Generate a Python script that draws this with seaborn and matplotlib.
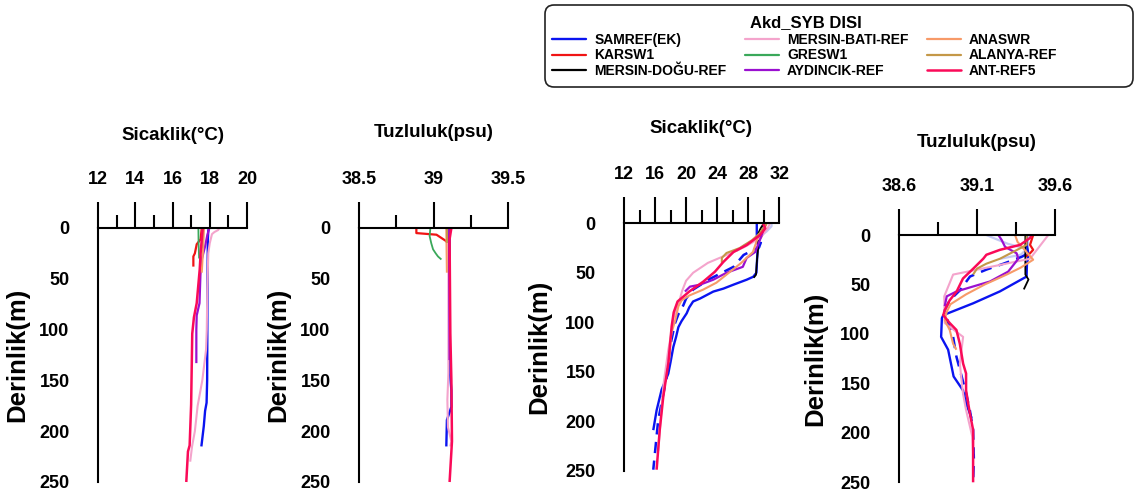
import matplotlib
matplotlib.use("Agg")
import matplotlib.pyplot as plt
from matplotlib.lines import Line2D
from matplotlib.patches import FancyBboxPatch
from matplotlib.transforms import IdentityTransform
import numpy as np
import pandas as pd
import seaborn as sns

# ---------------------------------------------------------------- stations
STATIONS = ["SAMREF(EK)", "KARSW1", "MERSIN-DOĞU-REF",
            "MERSIN-BATI-REF", "GRESW1", "AYDINCIK-REF",
            "ANASWR", "ALANYA-REF", "ANT-REF5"]
COLORS = ["#0a14f0", "#f01414", "#000000",
          "#f4a4cc", "#3aa85a", "#9a10d0",
          "#f79a68", "#c49848", "#fa0a58"]
WIDTHS = [1.7, 1.6, 1.3, 1.5, 1.3, 1.6, 1.5, 1.5, 1.8]
LEGEND_TITLE = "Akd_SYB DISI"

# ------------------------------------------- winter temperature (depth, T)
winter_temp = {
    "SAMREF(EK)": ([0, 3, 10, 50, 100, 150, 172, 180, 195, 215],
                   [17.95, 17.92, 17.9, 17.88, 17.87, 17.86, 17.83, 17.75, 17.68, 17.55]),
    "KARSW1": ([0, 11, 16, 25, 28, 38],
               [17.57, 17.51, 17.3, 17.2, 17.12, 17.12]),
    "MERSIN-BATI-REF": ([0, 2, 4, 6, 15, 25, 60, 100, 120, 150, 175, 200, 215, 230],
                        [18.52, 18.45, 18.25, 18.12, 18.0, 17.92, 17.87, 17.84, 17.8, 17.6, 17.35, 17.2, 17.05, 16.95]),
    "GRESW1": ([0, 15, 30], [17.39, 17.4, 17.43]),
    "AYDINCIK-REF": ([0, 7, 18, 31, 46, 74, 86, 100, 133],
                     [17.98, 17.87, 17.75, 17.57, 17.5, 17.45, 17.3, 17.28, 17.28]),
    "ANASWR": ([0, 18, 44], [17.69, 17.65, 17.57]),
    "ALANYA-REF": ([0, 10, 20], [17.62, 17.6, 17.56]),
    "ANT-REF5": ([0, 11, 25, 41, 74, 88, 104, 174, 214, 220, 250],
                 [17.62, 17.57, 17.51, 17.46, 17.3, 17.15, 17.06, 17.0, 16.92, 16.83, 16.74]),
}

# ---------------------------------------------- winter salinity (depth, S)
winter_sal = {
    "SAMREF(EK)": ([0, 137, 160, 176, 189, 215],
                   [39.108, 39.108, 39.12, 39.12, 39.09, 39.086]),
    "KARSW1": ([0, 5, 6.6, 13, 14], [38.885, 38.885, 39.02, 39.086, 39.088]),
    "MERSIN-BATI-REF": ([0, 143, 169, 196, 210, 215],
                        [39.1, 39.1, 39.093, 39.097, 39.12, 39.113]),
    "GRESW1": ([0, 8, 15, 21, 25, 28, 31],
               [38.979, 38.974, 38.985, 38.997, 39.015, 39.03, 39.053]),
    "AYDINCIK-REF": ([0, 60, 130], [39.104, 39.106, 39.108]),
    "ANASWR": ([0, 44], [39.086, 39.09]),
    "ALANYA-REF": ([0, 15], [39.093, 39.093]),
    "ANT-REF5": ([0, 11, 104, 150, 210, 250],
                 [39.12, 39.108, 39.113, 39.12, 39.124, 39.108]),
}

# ------------------------------------------- summer temperature (depth, T)
summer_temp = {
    "SAMREF(EK)": ([0, 10, 20, 24, 27, 50, 54, 57, 62, 66, 69, 76, 79, 85, 91, 99, 105, 115, 125, 140, 152, 168, 189, 209],
                   [29.1, 29.1, 29.15, 29.4, 29.2, 29.05, 28.65, 27.8, 26.1, 24.8, 23.5, 21.8, 20.9, 20.4, 20.07, 19.4, 19.0, 18.7, 18.35, 18.0, 17.7, 16.85, 16.2, 15.77]),
    "KARSW1": ([0, 5, 10, 15], [30.3, 30.1, 29.9, 29.6]),
    "MERSIN-DOĞU-REF": ([0, 5, 10, 27, 40, 52, 55],
                        [30.0, 29.6, 29.3, 29.25, 29.1, 29.0, 28.7]),
    "MERSIN-BATI-REF": ([0, 5, 15, 24, 30, 40, 50, 58, 68, 79, 95, 111, 128, 162, 200, 230],
                        [30.8, 30.5, 29.5, 27.5, 25.8, 22.8, 20.9, 20.0, 19.5, 19.1, 18.4, 18.1, 17.7, 17.1, 16.7, 16.4]),
    "AYDINCIK-REF": ([0, 8, 17, 29, 35, 44, 50, 57, 62, 64, 69],
                     [30.15, 29.9, 29.5, 28.9, 27.8, 27.3, 25.2, 23.5, 21.8, 20.5, 19.85]),
    "ANASWR": ([0, 5, 12, 20, 29, 40, 50, 60, 67, 73, 78, 84, 98, 111, 140],
               [30.3, 30.0, 29.3, 29.0, 28.6, 27.1, 25.5, 23.9, 22.2, 20.4, 19.4, 19.0, 18.6, 18.1, 17.8]),
    "ALANYA-REF": ([0, 5, 10, 17, 25, 30, 35, 40],
                   [30.4, 29.9, 29.5, 28.5, 26.9, 25.2, 24.6, 24.6]),
    "ANT-REF5": ([0, 5, 12, 22, 29, 39, 49, 59, 69, 79, 90, 104, 125, 142, 175, 209, 249],
                 [29.9, 30.2, 29.5, 27.8, 26.1, 24.8, 23.7, 22.2, 20.4, 18.9, 18.4, 18.14, 17.9, 17.7, 17.06, 16.6, 16.2]),
}
summer_temp_samref2 = ([0, 10, 20, 24, 32, 44, 56, 67, 76, 83, 92, 101, 125, 155, 199, 249],
                       [30.0, 29.8, 29.6, 29.4, 27.4, 26.1, 23.1, 20.9, 20.0, 19.63, 19.0, 18.57, 17.92, 17.5, 16.4, 15.77])
summer_temp_extra = ([0, 3, 8, 15, 22, 28], [31.0, 31.0, 30.4, 29.3, 27.5, 26.5])

# ---------------------------------------------- summer salinity (depth, S)
summer_sal = {
    "SAMREF(EK)": ([0, 10, 20, 30, 42, 57, 69, 81, 84, 103, 116, 143, 157, 170, 185],
                   [39.42, 39.42, 39.43, 39.42, 39.418, 39.247, 39.076, 38.884, 38.875, 38.87, 38.915, 38.95, 39.01, 39.03, 39.065]),
    "KARSW1": ([0, 5, 10, 15, 18.5, 22], [39.46, 39.45, 39.44, 39.46, 39.44, 39.41]),
    "MERSIN-DOĞU-REF": ([0, 40, 45, 50, 55], [39.41, 39.41, 39.43, 39.415, 39.4]),
    "MERSIN-BATI-REF": ([0, 24, 40, 62, 89, 103, 130, 160, 177, 204, 221],
                        [39.557, 39.44, 38.947, 38.89, 38.893, 39.011, 38.99, 39.01, 39.03, 39.07, 39.075]),
    "AYDINCIK-REF": ([0, 5, 12, 18.5, 24, 37, 47, 52, 57, 62, 72],
                     [39.237, 39.258, 39.28, 39.354, 39.365, 39.3, 39.183, 39.076, 38.97, 38.906, 38.893]),
    "ANASWR": ([0, 7, 14, 25, 33, 40, 50, 60, 70, 78, 86, 96, 110, 116],
               [39.344, 39.36, 39.4, 39.46, 39.38, 39.29, 39.15, 39.03, 38.93, 38.905, 38.893, 38.925, 38.947, 38.968]),
    "ALANYA-REF": ([0, 3, 10, 17, 24, 29, 34, 40],
                   [39.42, 39.418, 39.418, 39.333, 39.247, 39.16, 39.1, 39.075]),
    "ANT-REF5": ([0, 3, 10, 15, 20, 24, 34, 44, 57, 66, 76, 81, 89, 96, 110, 130, 140, 157, 167, 180, 197, 250],
                 [39.45, 39.44, 39.376, 39.247, 39.16, 39.14, 39.076, 39.01, 38.97, 38.925, 38.893, 38.884, 38.925, 38.968, 38.99, 39.011, 39.03, 39.03, 39.04, 39.054, 39.075, 39.075]),
}
summer_sal_samref2 = ([0, 10, 20, 22, 29, 35, 42, 56, 66, 76, 89, 103, 123, 136, 160, 177, 197, 227, 250],
                      [39.42, 39.42, 39.41, 39.387, 39.27, 39.16, 39.055, 38.99, 38.925, 38.893, 38.915, 38.947, 38.968, 38.99, 39.03, 39.054, 39.075, 39.08, 39.075])
summer_sal_extra = ([0, 4, 9, 14, 20, 24], [39.16, 39.22, 39.3, 39.42, 39.38, 39.25])

# ------------------------------------------------------------ axis ticks
DEPTH_MAJOR = [0, 50, 100, 150, 200, 250]
DEPTH_MINOR = [25, 75, 125, 175, 225]
T1_MAJOR, T1_MINOR = [12, 14, 16, 18, 20], [13, 15, 17, 19]
S1_MAJOR, S1_MINOR, S1_LABELS = [38.5, 39.0, 39.5], [38.75, 39.25], ["38.5", "39", "39.5"]
T2_MAJOR, T2_MINOR = [12, 16, 20, 24, 28, 32], [14, 18, 22, 26, 30]
S2_MAJOR, S2_MINOR, S2_LABELS = [38.6, 39.1, 39.6], [38.85, 39.35], ["38.6", "39.1", "39.6"]
TITLE_T = "Sicaklik(°C)"
TITLE_S = "Tuzluluk(psu)"
YLABEL = "Derinlik(m)"

# ---------------------------------------------------------------- style
sns.set_theme(style="white")
plt.rcParams["font.family"] = ["Liberation Sans", "DejaVu Sans"]
plt.rcParams["font.weight"] = "bold"
for key in ("text.color", "axes.labelcolor", "xtick.color", "ytick.color",
            "axes.edgecolor"):
    plt.rcParams[key] = "black"

W, H = 1137, 496
fig = plt.figure(figsize=(W / 100, H / 100), dpi=100)
fig.patch.set_facecolor("white")


def px_rect(left, top, right, bottom):
    return [left / W, 1 - bottom / H, (right - left) / W, (bottom - top) / H]


def profile(ax, depth, value, color, lw, ls="-"):
    df = pd.DataFrame({"value": value, "depth": depth})
    sns.lineplot(data=df, x="value", y="depth", sort=False, estimator=None,
                 color=color, linewidth=lw, linestyle=ls, ax=ax, legend=False)


def panel(rect, data, extras, xlim, major, minor, labels, title, title_xy, ylabel_x):
    ax = fig.add_axes(px_rect(*rect))
    for depth, value, color, lw, ls in extras:
        profile(ax, depth, value, color, lw, ls)
    for name, color, lw in zip(STATIONS, COLORS, WIDTHS):
        if name in data:
            d, v = data[name]
            profile(ax, d, v, color, lw)
    for ln in ax.lines:
        ln.set_clip_on(False)
        ln.set_solid_capstyle("butt")
    ax.set_xlim(*xlim)
    ax.set_ylim(250, 0)
    ax.set_xlabel("")
    ax.set_ylabel("")
    ax.set_facecolor("none")
    for side in ("bottom", "right"):
        ax.spines[side].set_visible(False)
    for side in ("top", "left"):
        ax.spines[side].set_visible(True)
        ax.spines[side].set_color("black")
        ax.spines[side].set_linewidth(1.5)
    ax.xaxis.set_ticks_position("top")
    ax.set_xticks(major, labels if labels else [str(t) for t in major])
    ax.set_xticks(minor, minor=True)
    ax.set_yticks(DEPTH_MAJOR, [str(t) for t in DEPTH_MAJOR])
    ax.set_yticks(DEPTH_MINOR, minor=True)
    ax.tick_params(axis="x", which="major", direction="out", length=18.5, width=1.5,
                   pad=10.5, labelsize=13, colors="black")
    ax.tick_params(axis="x", which="minor", direction="out", length=9.5, width=1.5,
                   colors="black")
    ax.tick_params(axis="y", which="major", direction="out", length=14.5, width=1.5,
                   pad=6, labelsize=13, colors="black")
    ax.tick_params(axis="y", which="minor", direction="out", length=7.5, width=1.5,
                   colors="black")
    for lab in ax.get_xticklabels() + ax.get_yticklabels():
        lab.set_fontweight("bold")
    ax.grid(False)
    fig.text(title_xy[0] / W, 1 - title_xy[1] / H, title, ha="center", va="center",
             fontsize=13.5, fontweight="bold", color="black")
    fig.text(ylabel_x / W, 1 - (rect[1] + rect[3]) / 2 / H, YLABEL, rotation=90,
             ha="center", va="center", fontsize=18.5, fontweight="bold", color="black")
    return ax


blue, lavender = COLORS[0], "#c4c8f4"
dash = (0, (4.5, 3))

panel((98, 228, 247, 482), winter_temp, [], (12, 20), T1_MAJOR, T1_MINOR, None,
      TITLE_T, (172.5, 135), 17.5)
panel((359, 228, 508, 482), winter_sal, [], (38.5, 39.5), S1_MAJOR, S1_MINOR, S1_LABELS,
      TITLE_S, (433.5, 133), 278)
panel((624, 223.3, 779.3, 470.7), summer_temp,
      [(summer_temp_extra[0], summer_temp_extra[1], lavender, 1.6, "-"),
       (summer_temp_samref2[0], summer_temp_samref2[1], blue, 1.8, dash)],
      (12, 32), T2_MAJOR, T2_MINOR, None, TITLE_T, (701, 129), 539.5)
panel((899, 235, 1055, 482.3), summer_sal,
      [(summer_sal_extra[0], summer_sal_extra[1], lavender, 1.6, "-"),
       (summer_sal_samref2[0], summer_sal_samref2[1], blue, 1.8, dash)],
      (38.6, 39.6), S2_MAJOR, S2_MINOR, S2_LABELS, TITLE_S, (977, 142), 815.5)

# ---------------------------------------------------------------- legend
handles = [Line2D([], [], color=c, lw=max(w, 1.6)) for c, w in zip(COLORS, WIDTHS)]
leg = fig.legend(handles, STATIONS, ncol=3, loc="upper left",
                 bbox_to_anchor=(552 / W, 1 - 33 / H), frameon=False,
                 prop={"weight": "bold", "size": 10},
                 handlelength=2.45, handletextpad=0.6, columnspacing=1.3,
                 labelspacing=0.1, borderpad=0, borderaxespad=0)
for txt in leg.get_texts():
    txt.set_color("black")
fig.text(806 / W, 1 - 23 / H, LEGEND_TITLE, ha="center", va="center",
         fontsize=12, fontweight="bold", color="black")
frame = FancyBboxPatch((545, H - 87), 588, 82, boxstyle="round,pad=0,rounding_size=9",
                       transform=IdentityTransform(), fill=False, lw=1.2,
                       edgecolor="#222222")
fig.add_artist(frame)

fig.savefig("out.png", dpi=100, facecolor="white")
